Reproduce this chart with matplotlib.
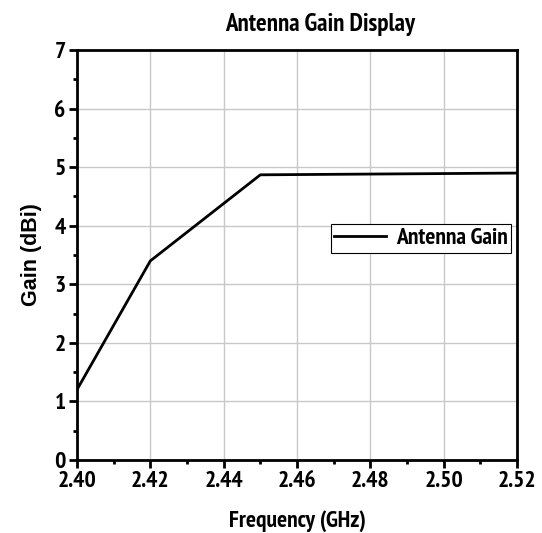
import matplotlib
matplotlib.use("Agg")
import matplotlib.pyplot as plt
from matplotlib import font_manager as fm
from matplotlib.ticker import MultipleLocator

freq = [2.40, 2.42, 2.45, 2.52]
gain = [1.2, 3.4, 4.87, 4.9]
xticks = [2.40, 2.42, 2.44, 2.46, 2.48, 2.50, 2.52]
yticks = [0, 1, 2, 3, 4, 5, 6, 7]

def has_static_bold(name):
    for f in fm.fontManager.ttflist:
        if f.name == name and '[' not in f.fname and f.style == 'normal':
            if f.weight in (700, 'bold'):
                return True
    return False

narrow = None
for cand in ['Liberation Sans Narrow', 'Arial Narrow', 'PT Sans Narrow',
             'Pragati Narrow', 'Encode Sans Condensed', 'Roboto Condensed',
             'Asap Condensed']:
    if has_static_bold(cand):
        narrow = cand
        break
if narrow is None:
    narrow = 'Liberation Sans'
    nscale = 0.8
else:
    nscale = 1.0

plt.rcParams['font.family'] = [narrow, 'Liberation Sans', 'DejaVu Sans']
fig = plt.figure(figsize=(5.42, 5.33), dpi=100)
ax = fig.add_axes([0.142, 0.137, 0.812, 0.769])
ax.plot(freq, gain, color='black', lw=2, label='Antenna Gain')
ax.set_xlim(2.40, 2.52)
ax.set_ylim(0, 7)
fs = 17 * nscale
ax.set_xticks(xticks)
ax.set_xticklabels([f"{v:.2f}" for v in xticks], fontweight='bold', fontsize=fs)
ax.set_yticks(yticks)
ax.set_yticklabels([str(v) for v in yticks], fontweight='bold', fontsize=fs)
ax.xaxis.set_minor_locator(MultipleLocator(0.01))
ax.yaxis.set_minor_locator(MultipleLocator(0.5))
ax.tick_params(which='major', direction='out', length=6, width=2, pad=2)
ax.tick_params(which='minor', direction='out', length=3, width=2)
ax.grid(True, which='major', color='#c8c8c8', lw=1)
for s in ax.spines.values():
    s.set_linewidth(2)
ax.set_xlabel('Frequency (GHz)', fontweight='bold', fontsize=fs, labelpad=13)
ax.set_ylabel('Gain (dBi)', fontweight='bold', fontsize=15.5,
              family=['Liberation Sans', 'DejaVu Sans'], labelpad=9)
ax.set_title('Antenna Gain Display', fontweight='bold', fontsize=18 * nscale,
             pad=14, x=0.553)
leg = ax.legend(loc='center right', bbox_to_anchor=(0.986, 0.54), fancybox=False,
                edgecolor='black', framealpha=1, prop={'weight': 'bold', 'size': fs},
                handlelength=2.2, borderpad=0.15, borderaxespad=0, handletextpad=0.4)
leg.get_frame().set_linewidth(0.8)
fig.savefig('out.png', dpi=100)
